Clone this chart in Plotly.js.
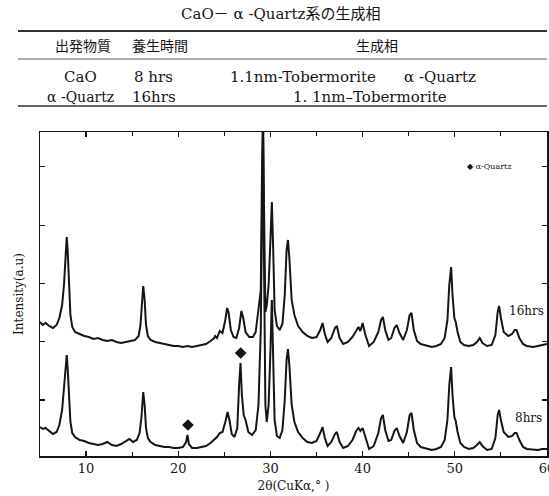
<!DOCTYPE html>
<html>
<head>
<meta charset="utf-8">
<script src="https://cdn.plot.ly/plotly-3.0.1.min.js"></script>
<style>html,body{margin:0;padding:0;background:#fff;}#chart{width:549px;height:496px;}</style>
</head>
<body>
<div id="chart"></div>
<script>
// ---- table data ----
const tableTitle = 'CaO－ α -Quartz系の生成相';
const tableHeader = ['出発物質', '養生時間', '生成相'];
const tableRow1 = ['CaO', '8 hrs', '1.1nm-Tobermorite', 'α -Quartz'];
const tableRow2 = ['α -Quartz', '16hrs', '1. 1nm–Tobermorite'];

// ---- XRD pattern, 16 hrs (upper) ----
const x16 = [5.0,5.3,5.6,6.0,6.4,6.8,7.1,7.4,7.6,7.8,7.9,8.0,8.15,8.3,8.5,8.8,9.3,9.8,10.3,10.8,11.3,11.8,12.3,12.8,13.3,13.8,14.3,14.8,15.3,15.7,15.9,16.05,16.2,16.35,16.5,16.7,17.0,17.5,18.0,18.5,19.0,19.5,20.0,20.5,21.0,21.5,22.0,22.5,23.0,23.5,23.9,24.0,24.2,24.5,24.8,25.1,25.3,25.45,25.7,26.0,26.3,26.6,26.85,27.05,27.3,27.7,28.1,28.4,28.7,28.95,29.1,29.2,29.3,29.45,29.6,29.8,30.0,30.15,30.3,30.45,30.7,31.0,31.3,31.55,31.75,31.9,32.05,32.3,32.6,33.0,33.5,34.0,34.5,35.0,35.4,35.65,35.9,36.2,36.6,37.0,37.2,37.5,37.9,38.4,38.9,39.3,39.55,39.75,40.0,40.3,40.7,41.2,41.7,42.0,42.2,42.45,42.8,43.1,43.45,43.7,44.0,44.4,44.8,45.1,45.3,45.55,45.9,46.3,47.0,47.5,48.0,48.5,48.9,49.2,49.4,49.6,49.75,49.95,50.1,50.3,50.6,51.0,51.5,52.0,52.4,52.7,53.0,53.5,54.0,54.4,54.65,54.8,55.0,55.3,55.8,56.2,56.5,56.7,57.0,57.4,57.8,58.5,59.0,59.5,60.0];
const y16 = [134,131,133,130,128,131,138,151,171,211,219,206,166,141,129,124,122,120,119,117,118,116,115,116,114,113,114,115,116,120,131,151,170,156,131,120,116,114,113,112,111,110,110,109,110,109,110,111,112,115,118,120,118,125,123,136,148,144,126,119,118,128,145,138,124,119,119,124,146,166,300,345,250,144,151,171,216,254,206,146,130,126,132,161,206,216,198,156,141,130,124,120,118,119,126,133,122,114,118,128,130,118,112,114,119,126,129,125,133,121,110,114,124,136,139,126,116,118,128,131,123,116,126,141,143,126,115,112,110,109,110,112,118,136,171,189,161,138,134,124,114,111,110,111,114,118,113,110,111,121,144,150,138,124,120,122,126,126,118,112,110,109,110,111,112];

// ---- XRD pattern, 8 hrs (lower) ----
const x8 = [5.0,5.3,5.6,6.0,6.4,6.8,7.1,7.4,7.6,7.8,7.9,8.0,8.15,8.3,8.5,8.8,9.3,9.8,10.3,10.8,11.3,11.8,12.3,12.8,13.3,13.8,14.3,14.7,15.1,15.5,15.8,16.0,16.2,16.35,16.5,16.7,17.0,17.5,18.0,18.5,19.0,19.5,20.0,20.5,20.85,21.0,21.15,21.5,22.0,22.5,23.0,23.5,23.9,24.2,24.5,24.8,25.1,25.35,25.55,25.8,26.1,26.4,26.6,26.75,26.9,27.1,27.3,27.6,28.0,28.4,28.7,28.95,29.1,29.2,29.3,29.45,29.6,29.8,30.0,30.15,30.3,30.45,30.7,31.0,31.3,31.55,31.75,31.9,32.05,32.3,32.6,33.0,33.5,34.0,34.5,35.0,35.4,35.65,35.9,36.2,36.6,37.0,37.2,37.5,37.9,38.4,38.9,39.3,39.55,39.75,40.0,40.3,40.7,41.2,41.7,42.0,42.2,42.45,42.8,43.1,43.45,43.7,44.0,44.4,44.8,45.1,45.3,45.55,45.9,46.3,47.0,47.5,48.0,48.5,48.9,49.2,49.4,49.6,49.75,49.95,50.1,50.3,50.6,51.0,51.5,52.0,52.4,52.7,53.0,53.5,54.0,54.4,54.65,54.8,55.0,55.3,55.8,56.2,56.5,56.7,57.0,57.4,57.8,58.5,59.0,59.5,60.0];
const y8 = [29,27,28,25,22,24,31,46,66,94,101,88,56,34,23,19,16,15,13,12,11,12,14,11,10,12,15,17,14,16,23,38,64,51,28,18,14,11,10,9,9,8,8,9,14,21,12,8,8,9,10,13,16,19,23,24,34,44,36,22,19,28,71,93,61,41,36,24,21,26,51,126,256,316,196,51,34,51,106,156,96,36,20,18,26,56,96,107,91,51,34,24,18,14,13,15,23,29,18,10,14,22,24,14,8,10,16,25,28,25,28,18,7,10,23,38,41,26,15,16,25,28,20,13,24,41,43,26,13,9,7,6,7,9,16,36,71,89,61,39,35,24,13,9,7,8,11,14,10,6,7,18,41,46,36,24,19,20,23,23,16,9,7,6,6,7,7];

// ---- α-Quartz peak markers ----
const quartzX = [21.05, 26.77];
const quartzY = [31, 103];

// ---- labels ----
const seriesLabels = ['16hrs', '8hrs'];
const legendLabel = '◆ α-Quartz';

const serif = 'DejaVu Serif, Liberation Serif, Noto Sans CJK JP, serif';
const ink = '#151515';

const traces = [
  {x: x16, y: y16, type: 'scatter', mode: 'lines', line: {color: ink, width: 2}, name: '16hrs', showlegend: false},
  {x: x8, y: y8, type: 'scatter', mode: 'lines', line: {color: ink, width: 2}, name: '8hrs', showlegend: false},
  {x: quartzX, y: quartzY, type: 'scatter', mode: 'markers', marker: {symbol: 'diamond', size: 9, color: ink}, name: 'α-Quartz', showlegend: false}
];

// pixel helpers for the table area (paper coordinates relative to plot area)
const L = 40, T = 132, W = 507, H = 324;
const px = v => (v - L) / W;
const py = v => (456 - v) / H;

function ann(text, xPix, yPix, size, anchor) {
  return {text: text, xref: 'paper', yref: 'paper', x: px(xPix), y: py(yPix),
    xanchor: anchor || 'center', yanchor: 'middle', showarrow: false,
    font: {family: serif, size: size, color: ink}};
}

const annotations = [
  ann(tableTitle, 280, 14, 15),
  ann(tableHeader[0], 83, 46, 14),
  ann(tableHeader[1], 160, 46, 14),
  ann(tableHeader[2], 377, 46, 14),
  ann(tableRow1[0], 80, 77, 15),
  ann(tableRow1[1], 153, 77, 15),
  ann(tableRow1[2], 303, 77, 15),
  ann(tableRow1[3], 440, 77, 15),
  ann(tableRow2[0], 80, 97, 14),
  ann(tableRow2[1], 154, 97, 15),
  ann(tableRow2[2], 370, 97, 15),
  {text: seriesLabels[0], xref: 'x', yref: 'y', x: 55.66, y: 145, xanchor: 'left', yanchor: 'middle', showarrow: false, font: {family: serif, size: 12, color: ink}},
  {text: seriesLabels[1], xref: 'x', yref: 'y', x: 56.3, y: 38, xanchor: 'left', yanchor: 'middle', showarrow: false, font: {family: serif, size: 12, color: ink}},
  ann(legendLabel, 465, 166, 8, 'left')
];

const shapes = [
  {type: 'line', xref: 'paper', yref: 'paper', x0: px(18), x1: px(547), y0: py(31), y1: py(31), line: {color: '#333', width: 2}},
  {type: 'line', xref: 'paper', yref: 'paper', x0: px(18), x1: px(547), y0: py(59), y1: py(59), line: {color: '#555', width: 1}},
  {type: 'line', xref: 'paper', yref: 'paper', x0: px(18), x1: px(547), y0: py(106), y1: py(106), line: {color: '#333', width: 1.5}}
];

const layout = {
  width: 549, height: 496,
  margin: {l: L, r: 2, t: T, b: 40},
  paper_bgcolor: '#fff', plot_bgcolor: '#fff',
  showlegend: false,
  font: {family: serif, color: ink},
  xaxis: {
    range: [5, 60], tick0: 0, dtick: 10, ticks: 'inside', ticklen: 5, tickwidth: 1.2, tickcolor: ink,
    minor: {dtick: 5, ticks: 'inside', ticklen: 4, tickwidth: 1, tickcolor: ink},
    showline: true, linecolor: ink, linewidth: 1.5, mirror: 'ticks', showgrid: false, zeroline: false,
    ticklabeloverflow: 'allow',
    tickfont: {family: serif, size: 13, color: ink},
    title: {text: '2θ(CuKα,° )', font: {family: serif, size: 12, color: ink}, standoff: 6}
  },
  yaxis: {
    range: [0, 324], tick0: 56, dtick: 58.3, ticks: 'inside', ticklen: 5, tickwidth: 1.2, tickcolor: ink,
    showticklabels: false,
    showline: true, linecolor: ink, linewidth: 1.5, mirror: 'ticks', showgrid: false, zeroline: false,
    title: {text: 'Intensity(a.u)', font: {family: serif, size: 12, color: ink}, standoff: 12}
  },
  annotations: annotations,
  shapes: shapes
};

Plotly.newPlot('chart', traces, layout, {staticPlot: true, displayModeBar: false});
</script>
</body>
</html>
